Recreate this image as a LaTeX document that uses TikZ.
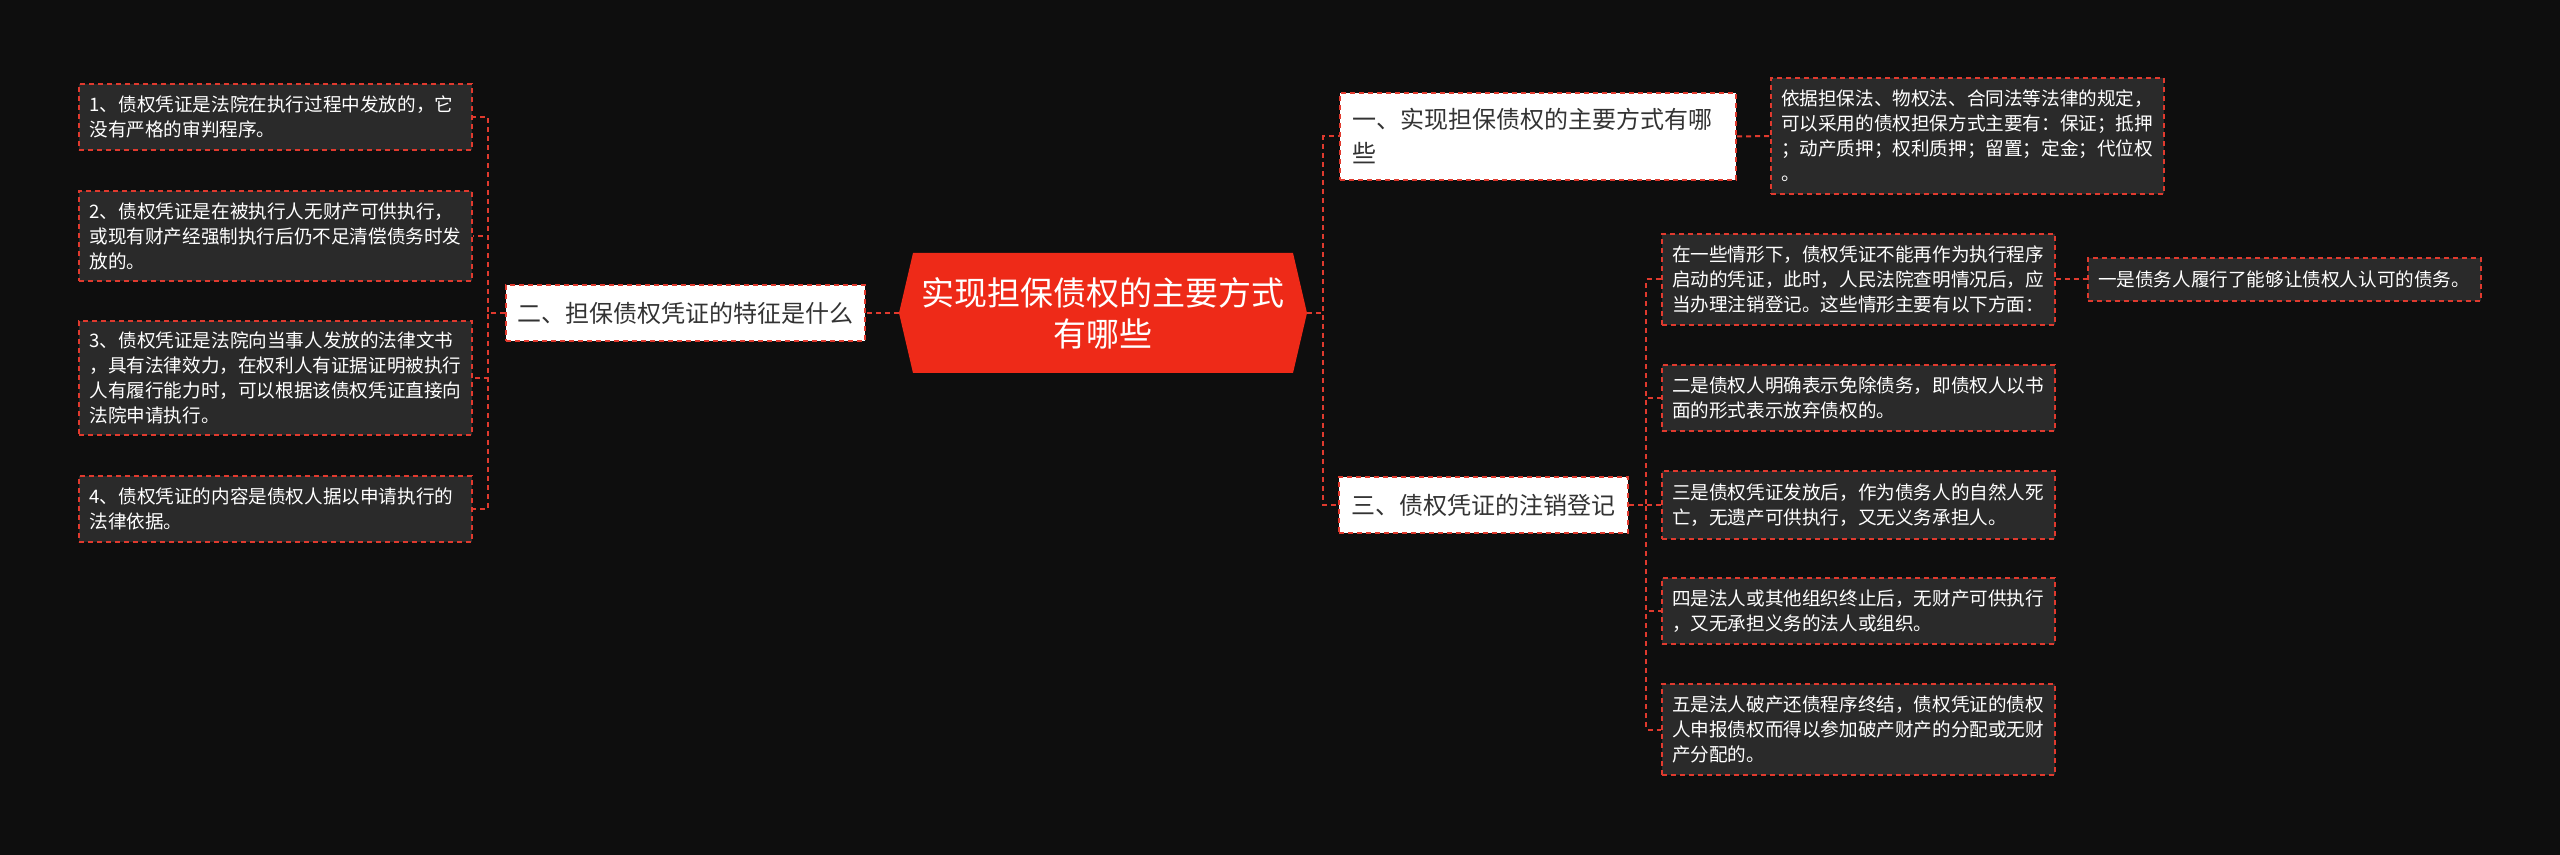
\documentclass[tikz,border=0pt]{standalone}
\usepackage{fontspec}
\setmainfont{Noto Sans CJK SC}
\usetikzlibrary{positioning}
\definecolor{bgblack}{RGB}{14,14,14}
\definecolor{boxgray}{RGB}{42,42,42}
\definecolor{dashred}{RGB}{224,58,46}
\definecolor{rootred}{RGB}{238,42,24}
\definecolor{topictext}{RGB}{51,51,51}

\begin{document}
\begin{tikzpicture}[x=0.5pt, y=-0.5pt,
  link/.style={draw=dashred, line width=1pt, dash pattern=on 2.5pt off 2pt},
  leafbox/.style={link, fill=boxgray, text=white, inner xsep=5.25pt, inner ysep=2pt,
    text width=186pt, align=left, font=\fontsize{9.3pt}{12.5pt}\selectfont},
  topicbox/.style={link, fill=white, text=topictext, inner ysep=2pt,
    font=\fontsize{12pt}{17pt}\selectfont},
  rootnode/.style={text=white, align=center, minimum width=204pt, minimum height=60pt,
    font=\fontsize{16.5pt}{20.5pt}\selectfont}]
  \fill[bgblack] (0,0) rectangle (2560,855);

  \fill[rootred] (913,253) -- (1293,253) -- (1307,313) -- (1293,373) -- (913,373) -- (899,313) -- cycle;
  \node[rootnode] (root) at (1103,313) {实现担保债权的主要方式\\有哪些};

  \node[topicbox, minimum width=179.5pt, minimum height=28pt] (two) at (685.5,313) {二、担保债权凭证的特征是什么};
  \node[leafbox, minimum height=33pt] (L1) at (275.5,117) {1、债权凭证是法院在执行过程中发放的，它\\没有严格的审判程序。};
  \node[leafbox, minimum height=45pt] (L2) at (275.5,236) {2、债权凭证是在被执行人无财产可供执行，\\或现有财产经强制执行后仍不足清偿债务时发\\放的。};
  \node[leafbox, minimum height=57pt] (L3) at (275.5,378) {3、债权凭证是法院向当事人发放的法律文书\\，具有法律效力，在权利人有证据证明被执行\\人有履行能力时，可以根据该债权凭证直接向\\法院申请执行。};
  \node[leafbox, minimum height=33pt] (L4) at (275.5,509) {4、债权凭证的内容是债权人据以申请执行的\\法律依据。};

  \node[topicbox, minimum height=43.5pt, inner xsep=6pt, text width=186pt, align=left] (one) at (1538,136.5) {一、实现担保债权的主要方式有哪\\些};
  \node[leafbox, minimum height=58pt] (detail) at (1967,136) {依据担保法、物权法、合同法等法律的规定，\\可以采用的债权担保方式主要有：保证；抵押\\；动产质押；权利质押；留置；定金；代位权\\。};

  \node[topicbox, minimum width=144.5pt, minimum height=28pt] (three) at (1483.5,505) {三、债权凭证的注销登记};
  \node[leafbox, minimum height=45.5pt] (Ra) at (1858,279.5) {在一些情形下，债权凭证不能再作为执行程序\\启动的凭证，此时，人民法院查明情况后，应\\当办理注销登记。这些情形主要有以下方面：};
  \node[leafbox, minimum height=33pt] (Rb) at (1858,398) {二是债权人明确表示免除债务，即债权人以书\\面的形式表示放弃债权的。};
  \node[leafbox, minimum height=33.5pt] (Rc) at (1858,505) {三是债权凭证发放后，作为债务人的自然人死\\亡，无遗产可供执行，又无义务承担人。};
  \node[leafbox, minimum height=33pt] (Rd) at (1858,611) {四是法人或其他组织终止后，无财产可供执行\\，又无承担义务的法人或组织。};
  \node[leafbox, minimum height=45.5pt] (Re) at (1858,729.5) {五是法人破产还债程序终结，债权凭证的债权\\人申报债权而得以参加破产财产的分配或无财\\产分配的。};
  \node[leafbox, minimum height=21.5pt] (Rf) at (2284,279.5) {一是债务人履行了能够让债权人认可的债务。};

  \draw[link] (root.west) -- (two.east);
  \foreach \n in {L1,L2,L3,L4}
    \draw[link] (two.west) -- ++(-17,0) |- (\n.east);
  \foreach \n in {one,three}
    \draw[link] (root.east) -- ++(16,0) |- (\n.west);
  \draw[link] (one.east) -- (detail.west);
  \foreach \n in {Ra,Rb,Rc,Rd,Re}
    \draw[link] (three.east) -- ++(17,0) |- (\n.west);
  \draw[link] (Ra.east) -- (Rf.west);
\end{tikzpicture}
\end{document}
